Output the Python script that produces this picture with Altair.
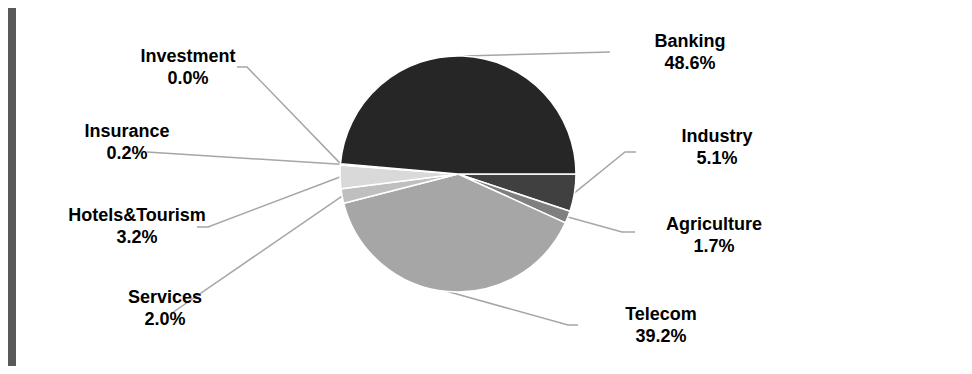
import math
import altair as alt
import pandas as pd

# ---- data (drawing order: clockwise from 3 o'clock) ----
categories = ["Industry", "Agriculture", "Telecom", "Services",
              "Hotels&Tourism", "Insurance", "Investment", "Banking"]
shares = [5.1, 1.7, 39.2, 2.0, 3.2, 0.2, 0.0, 48.6]
colors = ["#404040", "#7f7f7f", "#a6a6a6", "#bfbfbf",
          "#d9d9d9", "#8c8c8c", "#595959", "#262626"]

# ---- layout (pixels inside the plot area) ----
cx, cy, R = 442, 166, 118
label_anchor = {
    "Industry": (701, 134), "Agriculture": (698, 222), "Telecom": (645, 312),
    "Services": (149, 295), "Hotels&Tourism": (121, 213), "Insurance": (111, 129),
    "Investment": (172, 54), "Banking": (674, 39),
}
leader_path = {
    "Industry": [(609, 144), (620, 144)],
    "Agriculture": [(606, 224), (619, 224)],
    "Telecom": [(552, 317), (562, 317)],
    "Services": [(156, 305)],
    "Hotels&Tourism": [(192, 219), (181, 219)],
    "Insurance": [(131, 144)],
    "Investment": [(231, 59), (221, 59)],
    "Banking": [(594, 44)],
}

total = sum(shares)
pie_rows, line_rows = [], []
cum = 0.0
for i, (c, v) in enumerate(zip(categories, shares)):
    mid = math.pi / 2 + 2 * math.pi * (cum + v / 2) / total
    cum += v
    sx, sy = cx + R * math.sin(mid), cy - R * math.cos(mid)
    lx, ly = label_anchor[c]
    pie_rows.append({"cat": c, "share": v, "ord": i, "pct": f"{v:.1f}%", "lx": lx, "ly": ly})
    pts = [(sx, sy)] + leader_path[c]
    for j, (px, py) in enumerate(pts):
        line_rows.append({"cat": c, "idx": j, "x": px, "y": py})

pie_df = pd.DataFrame(pie_rows)
line_df = pd.DataFrame(line_rows)

lines = alt.Chart(line_df).mark_line(color="#a6a6a6", strokeWidth=1.5).encode(
    x=alt.X("x:Q", scale=None),
    y=alt.Y("y:Q", scale=None),
    detail="cat:N",
    order="idx:Q",
)

pie = alt.Chart(pie_df).mark_arc(outerRadius=R, stroke="white", strokeWidth=1.5).encode(
    theta=alt.Theta("share:Q", stack=True,
                    scale=alt.Scale(range=[math.pi / 2, math.pi / 2 + 2 * math.pi])),
    order=alt.Order("ord:Q"),
    color=alt.Color("cat:N", scale=alt.Scale(domain=categories, range=colors), legend=None),
    x=alt.value(cx),
    y=alt.value(cy),
)

text_style = dict(font="Liberation Sans", fontWeight="bold", fontSize=18,
                  align="center", baseline="alphabetic", color="black")
names = alt.Chart(pie_df).mark_text(**text_style).encode(
    x=alt.X("lx:Q", scale=None), y=alt.Y("ly:Q", scale=None), text="cat:N")
pcts = alt.Chart(pie_df).mark_text(dy=22, **text_style).encode(
    x=alt.X("lx:Q", scale=None), y=alt.Y("ly:Q", scale=None), text="pct:N")

chart = alt.layer(lines, pie, names, pcts).properties(
    width=956, height=358,
    autosize=alt.AutoSizeParams(type="fit", contains="padding"),
    padding={"left": 8, "top": 0, "right": 0, "bottom": 0},
    background="#595959",
).configure_view(fill="white", strokeWidth=0)

chart.save("out.html", embed_options={"renderer": "svg", "actions": False})
